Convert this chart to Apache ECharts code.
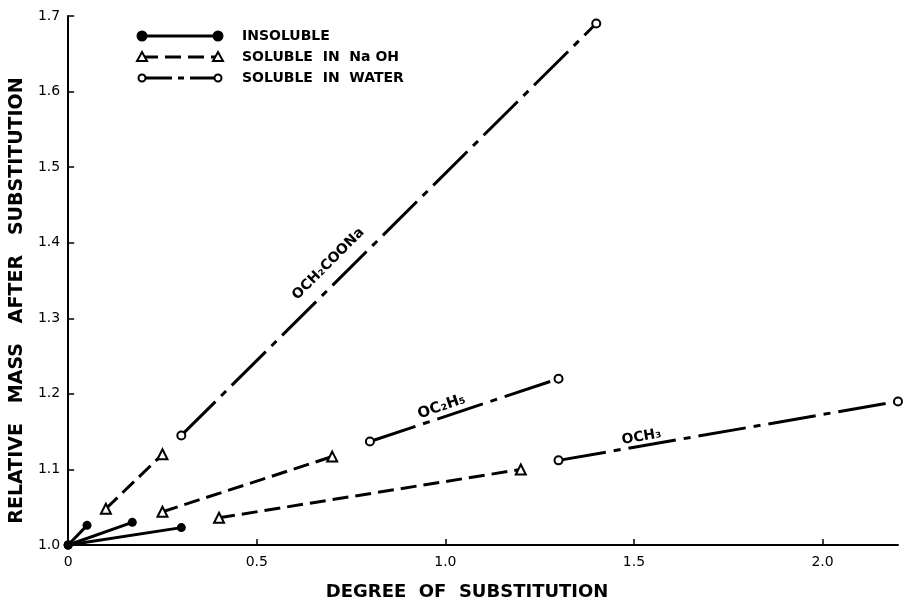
<!DOCTYPE html>
<html>
<head>
<meta charset="utf-8">
<script src="https://cdn.jsdelivr.net/npm/echarts@6/dist/echarts.min.js"></script>
<style>
  html, body { margin: 0; padding: 0; background: #fff; }
  #chart { width: 904px; height: 606px; }
</style>
</head>
<body>
<div id="chart"></div>
<script>
// Relative mass of substituted cellulose vs degree of substitution
const xTicks = [0, 0.5, 1.0, 1.5, 2.0];
const yTicks = [1.0, 1.1, 1.2, 1.3, 1.4, 1.5, 1.6, 1.7];

// insoluble range, starting from the unsubstituted material
const insolubleCH2COONa = [[0, 1.0], [0.05, 1.026]];
const insolubleC2H5 = [[0, 1.0], [0.17, 1.030]];
const insolubleCH3 = [[0, 1.0], [0.30, 1.023]];

// soluble in NaOH
const naohCH2COONa = [[0.10, 1.048], [0.25, 1.120]];
const naohC2H5 = [[0.25, 1.044], [0.70, 1.117]];
const naohCH3 = [[0.40, 1.036], [1.20, 1.100]];

// soluble in water
const waterCH2COONa = [[0.30, 1.145], [1.40, 1.690]];
const waterC2H5 = [[0.80, 1.137], [1.30, 1.220]];
const waterCH3 = [[1.30, 1.112], [2.20, 1.190]];

// substituent names written along the curves
const groupNames = ['OCH₂COONa', 'OC₂H₅', 'OCH₃'];
const groupLabelAt = [[0.69, 1.372], [0.99, 1.183], [1.52, 1.143]];

const legendNames = ['INSOLUBLE', 'SOLUBLE  IN  Na OH', 'SOLUBLE  IN  WATER'];

const FONT = 'DejaVu Sans';
const INK = '#000';

const styles = {
  insoluble: {
    symbol: 'circle', symbolSize: 9,
    itemStyle: { color: INK, borderColor: INK, borderWidth: 0, opacity: 1 },
    lineStyle: { color: INK, width: 3, type: 'solid' }
  },
  naoh: {
    symbol: 'triangle', symbolSize: 10,
    itemStyle: { color: '#fff', borderColor: INK, borderWidth: 2, opacity: 1 },
    lineStyle: { color: INK, width: 3, type: [16, 7] }
  },
  water: {
    symbol: 'circle', symbolSize: 8,
    itemStyle: { color: '#fff', borderColor: INK, borderWidth: 2, opacity: 1 },
    lineStyle: { color: INK, width: 3, type: [48, 8, 7, 8] }
  }
};

function segment(name, data, kind) {
  const s = styles[kind];
  return {
    name: name,
    type: 'line',
    data: data,
    symbol: s.symbol,
    symbolSize: s.symbolSize,
    showAllSymbol: true,
    itemStyle: s.itemStyle,
    lineStyle: s.lineStyle,
    z: kind === 'insoluble' ? 4 : 3,
    silent: true
  };
}

const labelAngles = [45, 19, 10];
const labelSizes = [14, 15, 14];

const series = [
  segment('insoluble', insolubleCH2COONa, 'insoluble'),
  segment('insoluble', insolubleC2H5, 'insoluble'),
  segment('insoluble', insolubleCH3, 'insoluble'),
  segment('naoh', naohCH2COONa, 'naoh'),
  segment('naoh', naohC2H5, 'naoh'),
  segment('naoh', naohCH3, 'naoh'),
  segment('water', waterCH2COONa, 'water'),
  segment('water', waterC2H5, 'water'),
  segment('water', waterCH3, 'water'),
  {
    type: 'scatter',
    symbolSize: 0,
    silent: true,
    z: 5,
    itemStyle: { opacity: 1, color: INK },
    data: groupNames.map((n, i) => ({
      name: n,
      value: groupLabelAt[i],
      label: {
        show: true,
        position: 'inside',
        formatter: '{b}',
        rotate: labelAngles[i],
        fontSize: labelSizes[i],
        fontFamily: FONT,
        fontWeight: 'bold',
        color: INK,
        opacity: 1,
        textBorderWidth: 0
      }
    }))
  }
];

// line sample with markers at both ends, followed by its caption
const legendRows = [36, 57, 78];
const legendX0 = 142, legendX1 = 218, legendTextX = 242;
const legendKinds = ['insoluble', 'naoh', 'water'];
const graphics = [];
legendKinds.forEach((kind, i) => {
  const y = legendRows[i];
  graphics.push({
    type: 'line',
    shape: { x1: legendX0, y1: y, x2: legendX1, y2: y },
    style: {
      stroke: INK, lineWidth: 3,
      lineDash: kind === 'naoh' ? [16, 7] : (kind === 'water' ? [30, 6, 6, 6] : null)
    },
    silent: true
  });
  [legendX0, legendX1].forEach(x => {
    if (kind === 'naoh') {
      graphics.push({
        type: 'polygon',
        shape: { points: [[x, y - 5], [x + 5, y + 4], [x - 5, y + 4]] },
        style: { fill: '#fff', stroke: INK, lineWidth: 2 },
        z: 10, silent: true
      });
    } else {
      graphics.push({
        type: 'circle',
        shape: { cx: x, cy: y, r: kind === 'insoluble' ? 4.5 : 3.5 },
        style: { fill: kind === 'insoluble' ? INK : '#fff', stroke: INK, lineWidth: 2 },
        z: 10, silent: true
      });
    }
  });
  graphics.push({
    type: 'text',
    x: legendTextX, y: y,
    style: {
      text: legendNames[i],
      font: 'bold 14px "' + FONT + '"',
      fill: INK,
      verticalAlign: 'middle',
      align: 'left'
    },
    silent: true
  });
});

const chart = echarts.init(document.getElementById('chart'), null, { renderer: 'canvas' });
chart.setOption({
  animation: false,
  backgroundColor: '#fff',
  grid: { left: 67, right: 6, top: 16, bottom: 53, containLabel: false },
  xAxis: {
    type: 'value',
    min: 0, max: 2.2, interval: 0.5,
    name: 'DEGREE  OF  SUBSTITUTION',
    nameLocation: 'middle',
    nameGap: 38,
    nameTextStyle: {
      fontFamily: FONT, fontWeight: 'bold', fontSize: 18, color: INK,
      padding: [0, 32, 0, 0]
    },
    axisLine: { show: true, onZero: false, lineStyle: { color: INK, width: 2 } },
    axisTick: { show: true, inside: true, length: 6, lineStyle: { color: INK, width: 1.5 }, customValues: xTicks },
    axisLabel: {
      customValues: xTicks,
      margin: 10,
      fontFamily: FONT, fontSize: 14, color: INK,
      formatter: v => (v === 0 ? '0' : v.toFixed(1))
    },
    splitLine: { show: false }
  },
  yAxis: {
    type: 'value',
    min: 1.0, max: 1.7, interval: 0.1,
    name: 'RELATIVE   MASS   AFTER   SUBSTITUTION',
    nameLocation: 'middle',
    nameRotate: 90,
    nameGap: 40,
    nameTextStyle: {
      fontFamily: FONT, fontWeight: 'bold', fontSize: 19, color: INK,
      padding: [0, 40, 0, 0]
    },
    axisLine: { show: true, onZero: false, lineStyle: { color: INK, width: 2 } },
    axisTick: { show: true, inside: true, length: 6, lineStyle: { color: INK, width: 1.5 }, customValues: yTicks },
    axisLabel: {
      customValues: yTicks,
      margin: 8,
      fontFamily: FONT, fontSize: 14, color: INK,
      formatter: v => v.toFixed(1)
    },
    splitLine: { show: false }
  },
  graphic: graphics,
  series: series
});
</script>
</body>
</html>
